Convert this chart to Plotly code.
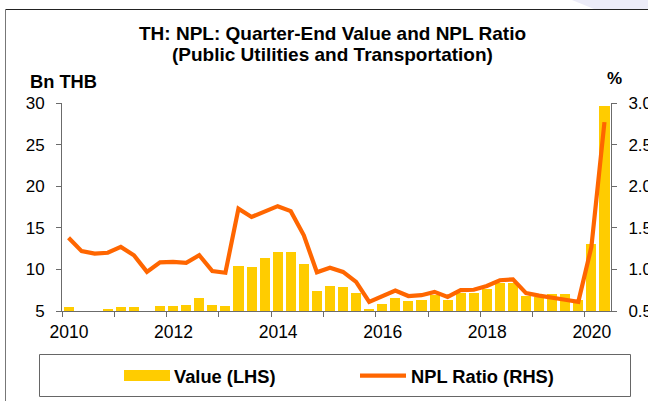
import plotly.graph_objects as go

# ---------------- data ----------------
quarters = [f"{y}Q{q}" for y in range(2010, 2021) for q in range(1, 5)][:42]
npl_value_bn_thb = [5.44, 4.8, 4.8, 5.15, 5.5, 5.5, 4.8, 5.55,
                    5.55, 5.75, 6.55, 5.75, 5.6, 10.45, 10.3, 11.35,
                    12.15, 12.05, 10.6, 7.4, 8.0, 7.85, 7.15, 5.3,
                    5.8, 6.55, 6.15, 6.35, 6.9, 6.35, 7.2, 7.15,
                    7.65, 8.35, 8.4, 6.85, 6.7, 7.1, 7.0, 6.3,
                    13.1, 29.6]
npl_ratio_pct = [1.38, 1.22, 1.19, 1.20, 1.27, 1.17, 0.97, 1.085,
                 1.09, 1.08, 1.17, 0.98, 0.96, 1.73, 1.63, 1.69,
                 1.76, 1.70, 1.41, 0.965, 1.02, 0.97, 0.85, 0.61,
                 0.68, 0.745, 0.68, 0.69, 0.73, 0.67, 0.75, 0.755,
                 0.80, 0.87, 0.88, 0.715, 0.685, 0.655, 0.635, 0.61,
                 1.27, 2.77]
years = list(range(2010, 2021))
year_labels = [str(y) if (y % 2 == 0) else "" for y in years]

title_lines = ["TH: NPL: Quarter-End Value and NPL Ratio",
               "(Public Utilities and Transportation)"]
left_unit = "Bn THB"
right_unit = "%"
legend_names = ["Value (LHS)", "NPL Ratio (RHS)"]

BAR_COLOR = "#FFCC00"
LINE_COLOR = "#FF6600"
FONT = "Liberation Sans, Arial, sans-serif"
AXIS_COLOR = "#6b6b6b"

W, H = 648, 401
L, R, T, B = 62, 37, 103, 90
PW, PH = W - L - R, H - T - B


def px_x(p):
    return (p - L) / PW


def px_y(p):
    return (H - B - p) / PH


xs = list(range(len(quarters)))

fig = go.Figure()
fig.add_trace(go.Bar(
    x=xs, y=[v - 5 for v in npl_value_bn_thb], base=5,
    marker=dict(color=BAR_COLOR, line=dict(width=0)),
    width=0.77, name=legend_names[0], showlegend=False,
    customdata=npl_value_bn_thb, hovertemplate="%{customdata}<extra></extra>",
))
fig.add_trace(go.Scatter(
    x=xs, y=npl_ratio_pct, yaxis="y2", mode="lines",
    line=dict(color=LINE_COLOR, width=4.2),
    name=legend_names[1], showlegend=False,
))

tick_positions = [-0.5 + 4 * i for i in range(len(years))]

fig.update_layout(
    width=W, height=H,
    margin=dict(l=L, r=R, t=T, b=B, pad=0, autoexpand=False),
    paper_bgcolor="white", plot_bgcolor="white",
    font=dict(family=FONT, color="#000000", size=17),
    bargap=0,
    xaxis=dict(
        range=[-0.5, len(quarters) - 0.5],
        tickmode="array", tickvals=tick_positions, ticktext=year_labels,
        ticks="outside", ticklen=5, tickwidth=1, tickcolor=AXIS_COLOR,
        ticklabelshift=7, ticklabelstandoff=0,
        tickfont=dict(size=17.5), automargin=False,
        showline=True, linecolor=AXIS_COLOR, linewidth=1,
        showgrid=False, zeroline=False, fixedrange=True,
    ),
    yaxis=dict(
        range=[5, 30], dtick=5, tick0=5,
        ticks="outside", ticklen=5, tickwidth=1, tickcolor=AXIS_COLOR,
        ticklabelstandoff=8, tickfont=dict(size=17), automargin=False,
        showline=True, linecolor=AXIS_COLOR, linewidth=1,
        showgrid=False, zeroline=False, fixedrange=True,
    ),
    yaxis2=dict(
        range=[0.5, 3.0], dtick=0.5, tick0=0.5, tickformat=".1f",
        overlaying="y", side="right",
        ticks="outside", ticklen=5, tickwidth=1, tickcolor=AXIS_COLOR,
        ticklabelstandoff=8, tickfont=dict(size=17), automargin=False,
        showline=True, linecolor=AXIS_COLOR, linewidth=1,
        showgrid=False, zeroline=False, fixedrange=True,
    ),
    showlegend=False,
)

shapes = []
# faint background blob top-right
shapes.append(dict(
    type="path", xref="paper", yref="paper", layer="below",
    path=(f"M {px_x(572)},{px_y(0)} L {px_x(650)},{px_y(0)} "
          f"L {px_x(650)},{px_y(9)} L {px_x(594)},{px_y(9)} Z"),
    fillcolor="#ececf8", line=dict(width=0),
))
# outer frame (top and left)
shapes.append(dict(type="line", xref="paper", yref="paper",
                   x0=px_x(5.5), x1=px_x(650), y0=px_y(9.5), y1=px_y(9.5),
                   line=dict(color="#222222", width=1)))
shapes.append(dict(type="line", xref="paper", yref="paper",
                   x0=px_x(5.5), x1=px_x(5.5), y0=px_y(9.5), y1=px_y(402),
                   line=dict(color="#777777", width=1)))
# legend box
shapes.append(dict(type="rect", xref="paper", yref="paper",
                   x0=px_x(39.5), x1=px_x(630.5), y0=px_y(354.5), y1=px_y(396.5),
                   line=dict(color="#666666", width=1), fillcolor="white"))
# legend swatches
shapes.append(dict(type="rect", xref="paper", yref="paper",
                   x0=px_x(124), x1=px_x(170), y0=px_y(370), y1=px_y(381),
                   line=dict(width=0), fillcolor=BAR_COLOR))
shapes.append(dict(type="line", xref="paper", yref="paper",
                   x0=px_x(360), x1=px_x(406), y0=px_y(375.7), y1=px_y(375.7),
                   line=dict(color=LINE_COLOR, width=4.2)))
fig.update_layout(shapes=shapes)

ann = []
ann.append(dict(text=f"<b>{title_lines[0]}</b>", xref="paper", yref="paper",
                x=px_x(332), y=px_y(33.5), xanchor="center", yanchor="middle",
                showarrow=False, font=dict(size=19)))
ann.append(dict(text=f"<b>{title_lines[1]}</b>", xref="paper", yref="paper",
                x=px_x(332), y=px_y(54.5), xanchor="center", yanchor="middle",
                showarrow=False, font=dict(size=19)))
ann.append(dict(text=f"<b>{left_unit}</b>", xref="paper", yref="paper",
                x=px_x(28), y=px_y(81.5), xanchor="left", yanchor="middle",
                showarrow=False, font=dict(size=18.3)))
ann.append(dict(text=f"<b>{right_unit}</b>", xref="paper", yref="paper",
                x=px_x(614), y=px_y(78), xanchor="center", yanchor="middle",
                showarrow=False, font=dict(size=17)))
ann.append(dict(text=f"<b>{legend_names[0]}</b>", xref="paper", yref="paper",
                x=px_x(172), y=px_y(376), xanchor="left", yanchor="middle",
                showarrow=False, font=dict(size=18.3)))
ann.append(dict(text=f"<b>{legend_names[1]}</b>", xref="paper", yref="paper",
                x=px_x(409), y=px_y(376), xanchor="left", yanchor="middle",
                showarrow=False, font=dict(size=18.3)))
fig.update_layout(annotations=ann)

fig.write_html("out.html", config={"displayModeBar": False},
               post_script="document.body.style.margin='0px';")
